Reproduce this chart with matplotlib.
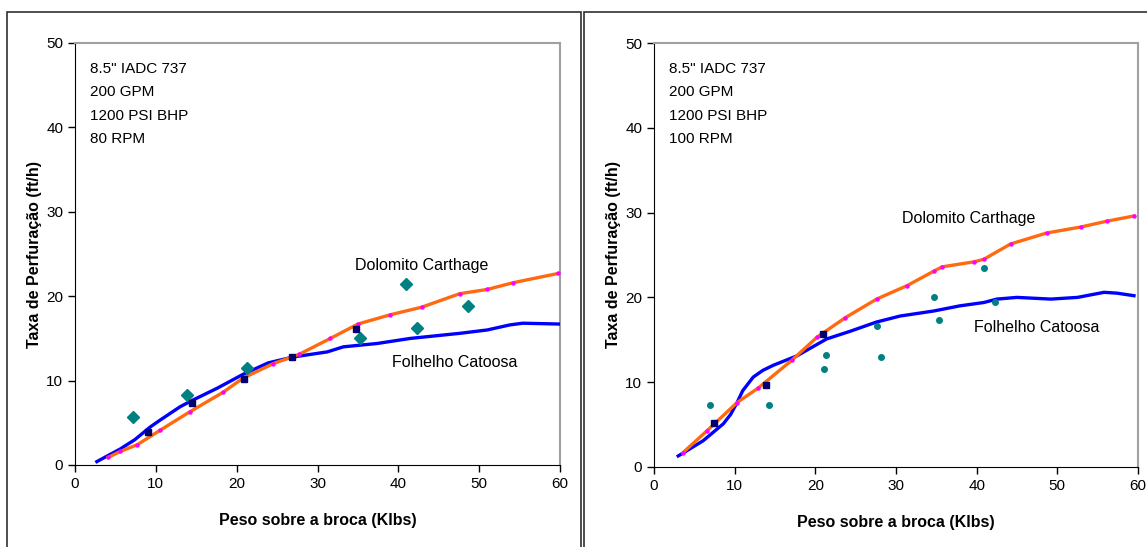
import matplotlib.pyplot as plt
from matplotlib.patches import Rectangle

plt.rcParams['font.family'] = ['Liberation Sans', 'DejaVu Sans']

# ---- painel esquerdo (80 RPM) ----
dol80_x = [4.1, 5.6, 7.7, 10.5, 14.2, 18.3, 20.8, 24.5, 27.7, 31.6, 35.0, 39.0, 42.9, 47.6, 51.0, 54.2, 59.8]
dol80_y = [0.9, 1.6, 2.4, 4.1, 6.3, 8.6, 10.3, 12.0, 13.1, 15.0, 16.7, 17.8, 18.7, 20.3, 20.8, 21.6, 22.7]
fol80_x = [2.7, 5.6, 7.4, 9.3, 10.5, 13.0, 14.6, 17.6, 20.7, 23.9, 27.0, 29.1, 31.2, 33.2, 37.4, 41.5, 47.6, 51.0, 53.8, 55.4, 60.0]
fol80_y = [0.4, 1.9, 3.0, 4.5, 5.3, 6.9, 7.7, 9.1, 10.7, 12.1, 12.8, 13.1, 13.4, 14.0, 14.4, 15.0, 15.6, 16.0, 16.6, 16.8, 16.7]
dat80_x = [7.2, 13.9, 21.3, 35.3, 41.0, 42.3, 48.6]
dat80_y = [5.7, 8.3, 11.5, 15.0, 21.4, 16.2, 18.8]
sq80_x = [9.0, 14.5, 20.9, 26.9, 34.8]
sq80_y = [3.9, 7.3, 10.2, 12.8, 16.1]

# ---- painel direito (100 RPM) ----
dol100_x = [3.6, 6.6, 10.3, 12.9, 17.1, 20.2, 23.7, 27.6, 31.4, 34.7, 35.7, 39.7, 40.9, 44.2, 48.7, 52.9, 56.2, 59.5]
dol100_y = [1.7, 4.3, 7.6, 9.3, 12.6, 15.3, 17.6, 19.8, 21.4, 23.1, 23.6, 24.2, 24.5, 26.3, 27.6, 28.3, 29.0, 29.6]
fol100_x = [3.0, 6.1, 8.6, 9.5, 10.3, 11.0, 12.3, 13.5, 14.8, 17.7, 21.4, 24.3, 27.6, 30.5, 34.7, 37.9,
            40.9, 42.5, 45.0, 49.2, 52.5, 55.8, 57.4, 59.5]
fol100_y = [1.3, 3.1, 5.1, 6.2, 7.6, 9.0, 10.6, 11.4, 12.0, 13.1, 15.1, 16.0, 17.1, 17.8, 18.4, 19.0,
            19.4, 19.8, 20.0, 19.8, 20.0, 20.6, 20.5, 20.2]
dat100_x = [6.9, 14.2, 21.1, 21.3, 27.7, 28.2, 34.7, 35.3, 40.9, 42.3]
dat100_y = [7.3, 7.3, 11.6, 13.2, 16.6, 13.0, 20.1, 17.3, 23.5, 19.5]
sq100_x = [7.4, 13.9, 21.0]
sq100_y = [5.2, 9.7, 15.7]

info80 = '8.5" IADC 737\n200 GPM\n1200 PSI BHP\n80 RPM'
info100 = '8.5" IADC 737\n200 GPM\n1200 PSI BHP\n100 RPM'

fig = plt.figure(figsize=(11.47, 5.47), dpi=100)
W, H = 1147, 547

# molduras dos paineis
fig.patches.append(Rectangle((7 / W, -0.1), (581 - 7) / W, 1.1 - 12 / H, transform=fig.transFigure,
                             fill=False, edgecolor='#303030', lw=1.2))
fig.patches.append(Rectangle((584 / W, -0.1), 0.5, 1.1 - 12 / H, transform=fig.transFigure,
                             fill=False, edgecolor='#303030', lw=1.2))


def painel(rect, dx, dy, fx, fy, px, py, qx, qy, info, big, lab_d, lab_f):
    ax = fig.add_axes(rect)
    ax.plot(fx, fy, color='#0000FF', lw=2.4, zorder=3)
    ax.plot(dx, dy, color='#FF6A10', lw=2.4, zorder=4,
            marker='o', ms=2.2, mfc='#FF00FF', mec='#FF00FF')
    if big:
        ax.plot(px, py, 'D', color='#008080', ms=6.5, ls='none', zorder=5)
    else:
        ax.plot(px, py, 'o', color='#008080', ms=4, ls='none', zorder=5)
    ax.plot(qx, qy, 's', color='#000070', ms=5, ls='none', zorder=6)
    ax.set_xlim(0, 60)
    ax.set_ylim(0, 50)
    ax.set_xticks(range(0, 61, 10))
    ax.set_yticks(range(0, 51, 10))
    ax.tick_params(direction='out', length=5, labelsize=11, width=1)
    for s in ('top', 'right'):
        ax.spines[s].set_color('#a0a0a0')
        ax.spines[s].set_linewidth(1.5)
    ax.text(0.03, 0.955, info, transform=ax.transAxes, va='top', ha='left',
            fontsize=11, linespacing=1.85)
    ax.text(lab_d[0], lab_d[1], 'Dolomito Carthage', fontsize=11.5, ha='center', va='center')
    ax.text(lab_f[0], lab_f[1], 'Folhelho Catoosa', fontsize=11.5, ha='center', va='center')
    ax.set_xlabel('Peso sobre a broca (Klbs)', fontsize=11.5, fontweight='bold', labelpad=16)
    ax.set_ylabel('Taxa de Perfuração (ft/h)', fontsize=11.5, fontweight='bold', labelpad=3)
    return ax


painel([75 / W, 82 / H, 485 / W, 422 / H], dol80_x, dol80_y, fol80_x, fol80_y,
       dat80_x, dat80_y, sq80_x, sq80_y, info80, True, (42.9, 23.6), (47.0, 12.2))
painel([654 / W, 80 / H, 484 / W, 424 / H], dol100_x, dol100_y, fol100_x, fol100_y,
       dat100_x, dat100_y, sq100_x, sq100_y, info100, False, (39.0, 29.3), (47.5, 16.5))

fig.savefig('out.png', dpi=100)
